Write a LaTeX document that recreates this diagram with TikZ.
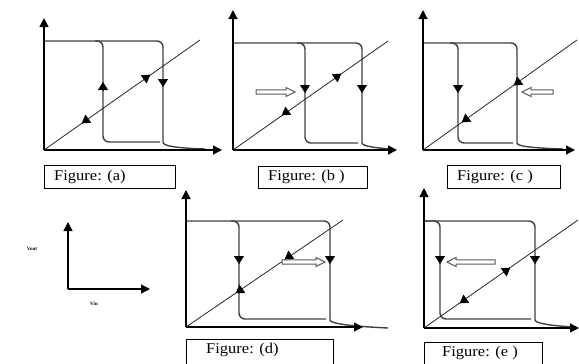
\documentclass[tikz,border=0pt]{standalone}
\usepackage{fontspec}
\setmainfont{Liberation Serif}
\usetikzlibrary{arrows.meta}
\tikzset{
  axisline/.style={line width=1.3pt, black, -{Triangle[length=9pt,width=9pt]}},
  plainaxis/.style={line width=1.3pt, black},
  curveline/.style={line width=1.4pt, black!75, rounded corners=6pt},
  diagline/.style={line width=0.8pt, black!85},
  soltip/.style={line width=0.4pt, black, -{Triangle[length=8pt,width=10pt]}},
  hollowstyle/.style={fill=white, draw=black!65, line width=1pt},
  labelbox/.style={draw=black, line width=0.8pt},
  labeltext/.style={anchor=west, inner sep=0pt, font=\fontsize{15}{15}\selectfont},
  smalltext/.style={inner sep=0pt, font=\fontsize{5}{5}\selectfont\bfseries}
}
\newcommand\solidarr[4]{\draw[soltip] ({#1-4*(#3)},{#2-4*(#4)}) -- ({#1+4*(#3)},{#2+4*(#4)});}
\newcommand\hollowarr[4]{\draw[hollowstyle] (#1,#4-2.2) -- (#2,#4-2.2) -- (#2,#4-4.5) -- (#3,#4) -- (#2,#4+4.5) -- (#2,#4+2.2) -- (#1,#4+2.2) -- cycle;}
\begin{document}
\begin{tikzpicture}[x=1pt,y=-1pt]
\useasboundingbox (0,0) rectangle (579,364);
\clip (0,0) rectangle (579,364);

% ---------- Panel (a) ----------
\coordinate (Oa) at (44,150);
\coordinate (Ya) at (44,18);
\coordinate (Xa) at (222,150);
\coordinate (Da) at (200,40);
\draw[curveline] (44,41) -- (163,41) -- (163,136) .. controls (163,146) and (175,148) .. (205,149);
\draw[curveline] (95,41) -- (103,41) -- (103,142) -- (160,142);
\draw[diagline] (Oa) -- (Da);
\draw[axisline] (Oa) -- (Ya);
\draw[axisline] (Oa) -- (Xa);
\solidarr{103}{86}{0}{-1}
\solidarr{163}{83}{0}{1}
\solidarr{85}{121}{-0.817}{0.576}
\solidarr{147}{77}{0.817}{-0.576}
\draw[labelbox] (44,165) rectangle (175,188);
\node[labeltext] (la) at (54,177) {\scalebox{1.1}[1]{Figure: (a)}};

% ---------- Panel (b) ----------
\coordinate (Ob) at (233,150);
\coordinate (Yb) at (233,10);
\coordinate (Xb) at (397,150);
\coordinate (Db) at (388,41);
\draw[curveline] (233,43) -- (362,43) -- (362,137) .. controls (362,146) and (375,148) .. (392,149);
\draw[curveline] (297,43) -- (305,43) -- (305,143) -- (358,143);
\draw[diagline] (Ob) -- (Db);
\draw[axisline] (Ob) -- (Yb);
\draw[axisline] (Ob) -- (Xb);
\solidarr{305}{89}{0}{1}
\solidarr{362}{89}{0}{1}
\solidarr{285}{113}{-0.818}{0.575}
\solidarr{338}{76}{0.818}{-0.575}
\hollowarr{256}{286}{295}{92}
\draw[labelbox] (258,166) rectangle (367,188);
\node[labeltext] (lb) at (268,177) {\scalebox{1.1}[1]{Figure: (b )}};

% ---------- Panel (c) ----------
\coordinate (Oc) at (423,150);
\coordinate (Yc) at (423,10);
\coordinate (Xc) at (575,150);
\coordinate (Dc) at (577,40);
\draw[curveline] (423,43) -- (517,43) -- (517,137) .. controls (517,146) and (530,148) .. (563,149);
\draw[curveline] (450,43) -- (458,43) -- (458,143) -- (513,143);
\draw[diagline] (Oc) -- (Dc);
\draw[axisline] (Oc) -- (Yc);
\draw[axisline] (Oc) -- (Xc);
\solidarr{458}{89}{0}{1}
\solidarr{465}{120}{-0.814}{0.581}
\hollowarr{553}{531}{522}{92}
\solidarr{517}{83}{-0.814}{0.581}
\draw[labelbox] (447,165) rectangle (560,188);
\node[labeltext] (lc) at (457,177) {\scalebox{1.1}[1]{Figure: (c )}};

% ---------- small axes ----------
\coordinate (Os) at (68,289);
\coordinate (Ys) at (68,222);
\coordinate (Xs) at (150,289);
\draw[axisline] (Os) -- (Ys);
\draw[axisline] (Os) -- (Xs);
\node[smalltext] (vout) at (32,249) {Vout};
\node[smalltext] (vin) at (94,304) {Vin};

% ---------- Panel (d) ----------
\coordinate (Od) at (186,327);
\coordinate (Yd) at (186,190);
\coordinate (Xd) at (363,327);
\coordinate (Dd) at (343,220);
\draw[curveline] (186,221) -- (330,221) -- (330,314) .. controls (330,323) and (345,326) .. (388,328);
\draw[curveline] (231,221) -- (239,221) -- (239,319) -- (326,319);
\draw[diagline] (Od) -- (Dd);
\draw[axisline] (Od) -- (Yd);
\draw[axisline] (Od) -- (Xd);
\solidarr{239}{260}{0}{1}
\solidarr{330}{260}{0}{1}
\hollowarr{282}{316}{325}{262}
\solidarr{288}{257}{-0.827}{0.562}
\solidarr{239}{291}{-0.827}{0.562}
\draw[labelbox] (186,339) rectangle (333,380);
\node[labeltext] (ld) at (206,350) {\scalebox{1.1}[1]{Figure: (d)}};

% ---------- Panel (e) ----------
\coordinate (Oe) at (424,328);
\coordinate (Ye) at (424,188);
\coordinate (Xe) at (579,328);
\coordinate (De) at (578,220);
\draw[curveline] (424,221) -- (535,221) -- (535,314) .. controls (535,323) and (550,326) .. (576,327);
\draw[curveline] (424,221) -- (440,221) -- (440,319) -- (531,319);
\draw[diagline] (Oe) -- (De);
\draw[axisline] (Oe) -- (Ye);
\draw[axisline] (Oe) -- (Xe);
\solidarr{440}{260}{0}{1}
\solidarr{535}{260}{0}{1}
\solidarr{507}{270}{0.819}{-0.573}
\solidarr{463}{301}{-0.819}{0.573}
\hollowarr{495}{456}{447}{262}
\draw[labelbox] (424,342) rectangle (542,380);
\node[labeltext] (le) at (442,353) {\scalebox{1.1}[1]{Figure: (e )}};
\end{tikzpicture}
\end{document}
